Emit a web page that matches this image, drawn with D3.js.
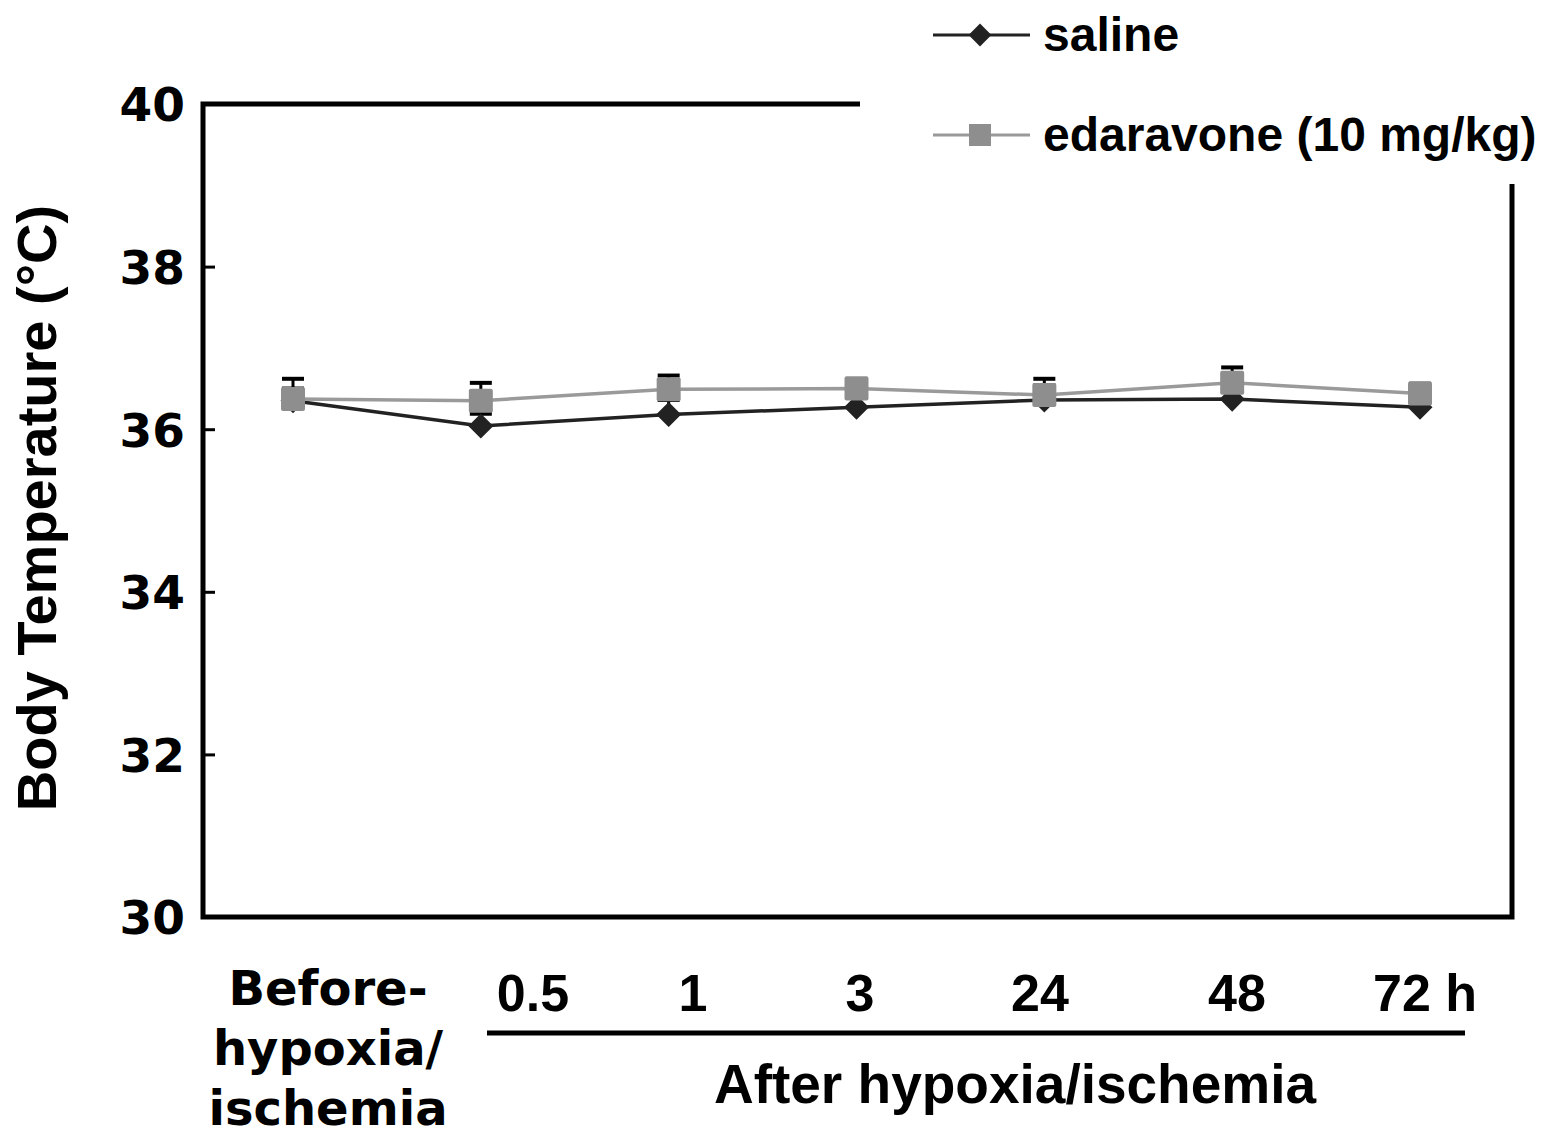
<!DOCTYPE html>
<html><head><meta charset="utf-8">
<script src="https://cdn.jsdelivr.net/npm/d3@7"></script>
<style>body{margin:0;background:#fff}svg{display:block}text{font-family:"Liberation Sans",Arial,sans-serif;font-weight:bold;fill:#000}</style>
</head><body>
<script>
const categories = ["before", "0.5", "1", "3", "24", "48", "72"];
const tickLabels = ["0.5", "1", "3", "24", "48", "72 h"];
const salineValues = [36.35, 36.04, 36.18, 36.27, 36.36, 36.37, 36.27];
const salineErr = [0.15, 0.15, 0.18, 0.2, 0.18, 0.15, 0.18];
const edaraValues = [36.37, 36.35, 36.49, 36.5, 36.42, 36.57, 36.44];
const edaraErr = [0.25, 0.22, 0.17, 0.12, 0.2, 0.19, 0.12];
const yTicks = [30, 32, 34, 36, 38, 40];

const W = 1562, H = 1136;
const svg = d3.select("body").append("svg").attr("width", W).attr("height", H);
const L = 203, R = 1512, T = 104, B = 917;
const y = d3.scaleLinear().domain([30, 40]).range([B, T]);
const x = d3.scalePoint().domain(categories).range([293, 1420]);

// frame
svg.append("path").attr("d", `M${L},${T}H${R}V${B}H${L}Z`).attr("fill", "none").attr("stroke", "#000").attr("stroke-width", 5);
// y axis ticks & labels
const yAxis = d3.axisLeft(y).tickValues(yTicks).tickSize(-12).tickPadding(18).tickFormat(d3.format("d"));
const ga = svg.append("g").attr("transform", `translate(${L},0)`).call(yAxis);
ga.select(".domain").remove();
ga.selectAll(".tick line").attr("stroke", "#000").attr("stroke-width", 3);
ga.selectAll(".tick text").style("font-size", "47px").style("font-family", "'DejaVu Sans', sans-serif").style("font-weight", "bold").attr("dy", "0.36em").attr("x", -18);

// y label
svg.append("text").attr("transform", `translate(56,508) rotate(-90)`).attr("text-anchor", "middle").attr("font-size", 56).text("Body Temperature (°C)");

// error bars
function errBars(vals, errs) {
  const g = svg.append("g");
  vals.forEach((v, i) => {
    const cx = x(categories[i]);
    g.append("line").attr("x1", cx).attr("x2", cx).attr("y1", y(v)).attr("y2", y(v + errs[i])).attr("stroke", "#000").attr("stroke-width", 3);
    g.append("line").attr("x1", cx - 11).attr("x2", cx + 11).attr("y1", y(v + errs[i])).attr("y2", y(v + errs[i])).attr("stroke", "#000").attr("stroke-width", 4);
  });
}
errBars(salineValues, salineErr);
errBars(edaraValues, edaraErr);

const line = d3.line().x((d, i) => x(categories[i])).y(d => y(d));
// saline
svg.append("path").datum(salineValues).attr("d", line).attr("fill", "none").attr("stroke", "#222").attr("stroke-width", 3.5);
svg.append("g").selectAll("path").data(salineValues).join("path")
  .attr("d", d3.symbol(d3.symbolDiamond2 || d3.symbolDiamond, 400)())
  .attr("transform", (d, i) => `translate(${x(categories[i])},${y(d)})`).attr("fill", "#222");
// edaravone
svg.append("path").datum(edaraValues).attr("d", line).attr("fill", "none").attr("stroke", "#9a9a9a").attr("stroke-width", 3.5);
svg.append("g").selectAll("rect").data(edaraValues).join("rect")
  .attr("x", (d, i) => x(categories[i]) - 12).attr("y", d => y(d) - 12).attr("width", 24).attr("height", 24).attr("rx", 2)
  .attr("fill", "#8e8e8e");

// x labels
svg.append("text").attr("text-anchor", "middle").style("font-size", "48px").style("font-family", "'DejaVu Sans', sans-serif").selectAll("tspan")
  .data(["Before-", "hypoxia/", "ischemia"]).join("tspan").attr("x", 328).attr("y", (d, i) => 1005 + i * 60).text(d => d);
const labelX = [533, 693, 860, 1040, 1237, 1425];
svg.append("g").selectAll("text").data(tickLabels).join("text")
  .attr("x", (d, i) => labelX[i]).attr("y", 1011).attr("text-anchor", "middle").attr("font-size", 52).text(d => d);
svg.append("line").attr("x1", 487).attr("x2", 1465).attr("y1", 1033).attr("y2", 1033).attr("stroke", "#000").attr("stroke-width", 5);
svg.append("text").attr("x", 1015).attr("y", 1103).attr("text-anchor", "middle").attr("font-size", 55).text("After hypoxia/ischemia");

// legend
svg.append("rect").attr("x", 860).attr("y", 0).attr("width", W - 860).attr("height", 184).attr("fill", "#fff");
const leg = [{name: "saline", color: "#222", sym: "diamond"}, {name: "edaravone (10 mg/kg)", color: "#9a9a9a", sym: "square"}];
leg.forEach((d, i) => {
  const ly = 35 + i * 100;
  svg.append("line").attr("x1", 933).attr("x2", 1030).attr("y1", ly).attr("y2", ly).attr("stroke", d.color).attr("stroke-width", 3);
  if (d.sym === "diamond") svg.append("path").attr("d", d3.symbol(d3.symbolDiamond2 || d3.symbolDiamond, 330)()).attr("transform", `translate(980,${ly})`).attr("fill", d.color);
  else svg.append("rect").attr("x", 969).attr("y", ly - 11).attr("width", 22).attr("height", 22).attr("fill", "#8e8e8e");
  svg.append("text").attr("x", 1043).attr("y", ly + 16).attr("font-size", 48).text(d.name);
});
</script>
</body></html>
